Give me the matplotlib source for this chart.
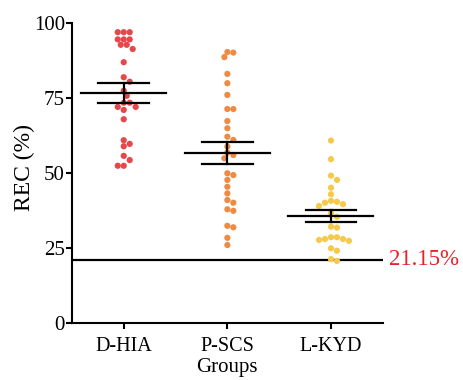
import matplotlib
matplotlib.use('Agg')
import matplotlib.pyplot as plt
import numpy as np

plt.rcParams['font.family'] = ['Liberation Serif', 'DejaVu Serif']

# Data
groups = ['D-HIA', 'P-SCS', 'L-KYD']
colors = ['#e5474b', '#ef8a43', '#f5c94a']

d_hia = [97, 97, 97, 94.6, 94.6, 94.6, 92.8, 92.8, 91.4, 87, 82, 80.5, 77.5,
         75.8, 73.5, 73.5, 72.1, 72.1, 71.1, 68, 61, 59.8, 59, 55.8, 54.4, 52.5, 52.5]
p_scs = [90.4, 90.2, 88.7, 83.1, 80, 76.1, 71.4, 71.4, 67.4, 65, 62.2, 61.1, 58.9,
         56.9, 56.1, 55, 50, 49.4, 47.8, 45.5, 43.3, 41.1, 40.2, 38, 37.5, 32.5, 32,
         28.5, 26.1]
l_kyd = [60.9, 54.7, 49.2, 47.8, 45.2, 43, 40.8, 40.5, 40.2, 39.7, 39.1, 36.7, 35.5,
         32.2, 31.9, 28.7, 28.7, 28.1, 28.1, 27.8, 27.5, 25, 24.2, 21.4, 20.8]
values = [d_hia, p_scs, l_kyd]

means = [76.7, 56.7, 35.9]
sems = [3.3, 3.6, 2.0]
threshold = 21.15


def swarm_offsets(vals, px_x, px_y, diam):
    # simple beeswarm: place each point at the smallest horizontal offset free of overlaps
    order = np.argsort(vals)[::-1]
    placed = []
    offs = np.zeros(len(vals))
    for i in order:
        y = vals[i] * px_y
        for k in range(0, 20):
            cands = [0.0] if k == 0 else [k * diam * 0.5, -k * diam * 0.5]
            ok = None
            for c in cands:
                if all((c - px) ** 2 + (y - py) ** 2 >= diam ** 2 * 0.95 for px, py in placed):
                    ok = c
                    break
            if ok is not None:
                break
        placed.append((ok, y))
        offs[i] = ok / px_x
    return offs


fig = plt.figure(figsize=(4.64, 3.8), dpi=100)
ax = fig.add_axes([0.155, 0.149, 0.67, 0.79])

px_x, px_y = 104.0, 3.0
for i, (vals, col) in enumerate(zip(values, colors)):
    offs = swarm_offsets(vals, px_x, px_y, 6.0)
    ax.scatter(i + offs, vals, s=20, color=col, edgecolors='none', zorder=2, clip_on=False)
    m, s = means[i], sems[i]
    ax.plot([i - 0.41, i + 0.41], [m, m], color='black', lw=1.6, zorder=3)
    ax.plot([i - 0.245, i + 0.245], [m + s, m + s], color='black', lw=1.6, zorder=3)
    ax.plot([i - 0.245, i + 0.245], [m - s, m - s], color='black', lw=1.6, zorder=3)
    ax.plot([i, i], [m - s, m + s], color='black', lw=1.6, zorder=3)

ax.axhline(threshold, color='black', lw=1.6, zorder=1)
ax.text(1.02, threshold, '21.15%', color='#e8202a', fontsize=16.5,
        transform=ax.get_yaxis_transform(), va='center', ha='left')

ax.set_xlim(-0.5, 2.5)
ax.set_ylim(0, 100)
ax.set_xticks(range(3))
ax.set_xticklabels(groups, fontsize=14.5)
ax.set_yticks([0, 25, 50, 75, 100])
ax.tick_params(axis='y', labelsize=15, width=1.5, length=4, pad=1)
ax.tick_params(axis='x', width=1.5, length=4, pad=6)
ax.set_ylabel('REC (%)', fontsize=17)
ax.yaxis.set_label_coords(-0.12, 0.52)
ax.set_xlabel('Groups', fontsize=15, labelpad=1)
for side in ['top', 'right']:
    ax.spines[side].set_visible(False)
for side in ['left', 'bottom']:
    ax.spines[side].set_linewidth(1.5)

fig.savefig('out.png', dpi=100)
